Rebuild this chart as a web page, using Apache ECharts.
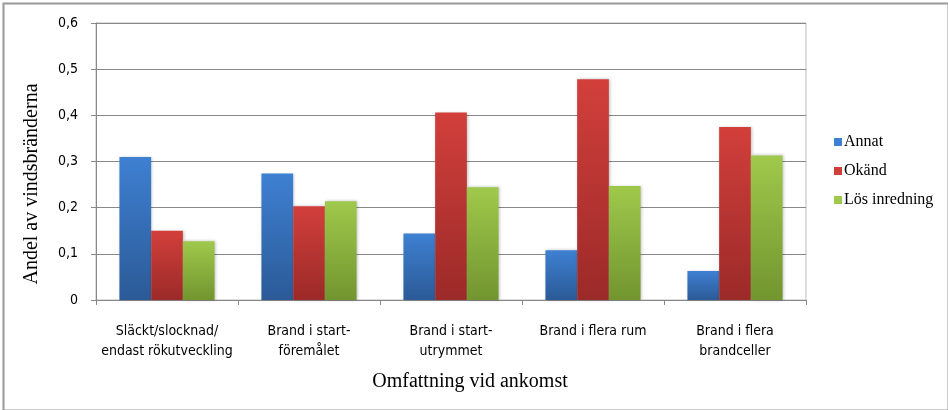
<!DOCTYPE html>
<html><head><meta charset="utf-8">
<script src="https://cdn.jsdelivr.net/npm/echarts@6/dist/echarts.min.js"></script>
<style>html,body{margin:0;padding:0;background:#fff}#c{width:948px;height:410px}</style>
</head><body><div id="c"></div>
<script>
const categories = ['Släckt/slocknad/\nendast rökutveckling','Brand i start-\nföremålet','Brand i start-\nutrymmet','Brand i flera rum','Brand i flera\nbrandceller'];
const seriesNames = ['Annat','Okänd','Lös inredning'];
const annat = [0.310, 0.274, 0.144, 0.108, 0.063];
const okand = [0.150, 0.203, 0.406, 0.478, 0.375];
const losInredning = [0.127, 0.214, 0.244, 0.247, 0.313];
const yTicks = [0, 0.1, 0.2, 0.3, 0.4, 0.5, 0.6];
const xTitle = 'Omfattning vid ankomst';
const yTitle = 'Andel av vindsbränderna';

const sans = "'Liberation Sans Narrow','DejaVu Sans Condensed','Open Sans',sans-serif";
const serif = "'Liberation Serif','DejaVu Serif',serif";
function grad(top, bottom){
  return new echarts.graphic.LinearGradient(0,0,0,1,[{offset:0,color:top},{offset:1,color:bottom}]);
}
const colors = [['#3e80d2','#2b5a97'],['#d23f3b','#9b2a28'],['#9fc94b','#72952f']];
const data = [annat, okand, losInredning];
const chart = echarts.init(document.getElementById('c'), null, {renderer:'canvas'});
chart.setOption({
  animation:false,
  color: colors.map(c=>c[0]),
  grid:{left:96, top:23, width:710, height:277, show:true, borderColor:'#bbbbbb', borderWidth:1, backgroundColor:'transparent'},
  legend:{orient:'vertical', left:829, top:129, itemWidth:8, itemHeight:8, itemGap:13, icon:'rect',
    textStyle:{fontFamily:serif, fontSize:16, color:'#000', padding:[0,0,0,-3]},
    data: seriesNames.map((n,i)=>({name:n, itemStyle:{color:colors[i][0]}}))},
  xAxis:{type:'category', data:categories,
    axisLine:{lineStyle:{color:'#888', width:1}},
    axisTick:{show:true, length:5, lineStyle:{color:'#888'}, alignWithLabel:false},
    axisLabel:{fontFamily:sans, fontSize:14, color:'#000', margin:21, lineHeight:20, interval:0}},
  yAxis:{type:'value', min:yTicks[0], max:yTicks[yTicks.length-1], interval:0.1,
    axisLine:{show:true, lineStyle:{color:'#888', width:1}},
    axisTick:{show:true, length:5, lineStyle:{color:'#888'}},
    splitLine:{lineStyle:{color:'#888', width:1}},
    axisLabel:{fontFamily:sans, fontSize:14, color:'#000', margin:18,
      formatter:v=> v===0 ? '0' : v.toFixed(1).replace('.',',')}},
  series: seriesNames.map((n,i)=>({
    name:n, type:'bar', data:data[i], barGap:'0%', barCategoryGap:'33%',
    itemStyle:{color:grad(colors[i][0], colors[i][1]), shadowBlur:3, shadowColor:'rgba(0,0,0,0.25)', shadowOffsetX:1}
  })),
  graphic:[
    {type:'rect', left:1, top:1, shape:{width:945, height:407}, style:{fill:'none', stroke:'#999', lineWidth:2}, silent:true},
    {type:'text', x:470, y:382, style:{text:xTitle, font:'20px '+serif, fill:'#000', textAlign:'center', textVerticalAlign:'middle'}},
    {type:'text', x:32, y:184, rotation:Math.PI/2, style:{text:yTitle, font:'20px '+serif, fill:'#000', textAlign:'center', textVerticalAlign:'middle'}}
  ]
});
</script></body></html>
